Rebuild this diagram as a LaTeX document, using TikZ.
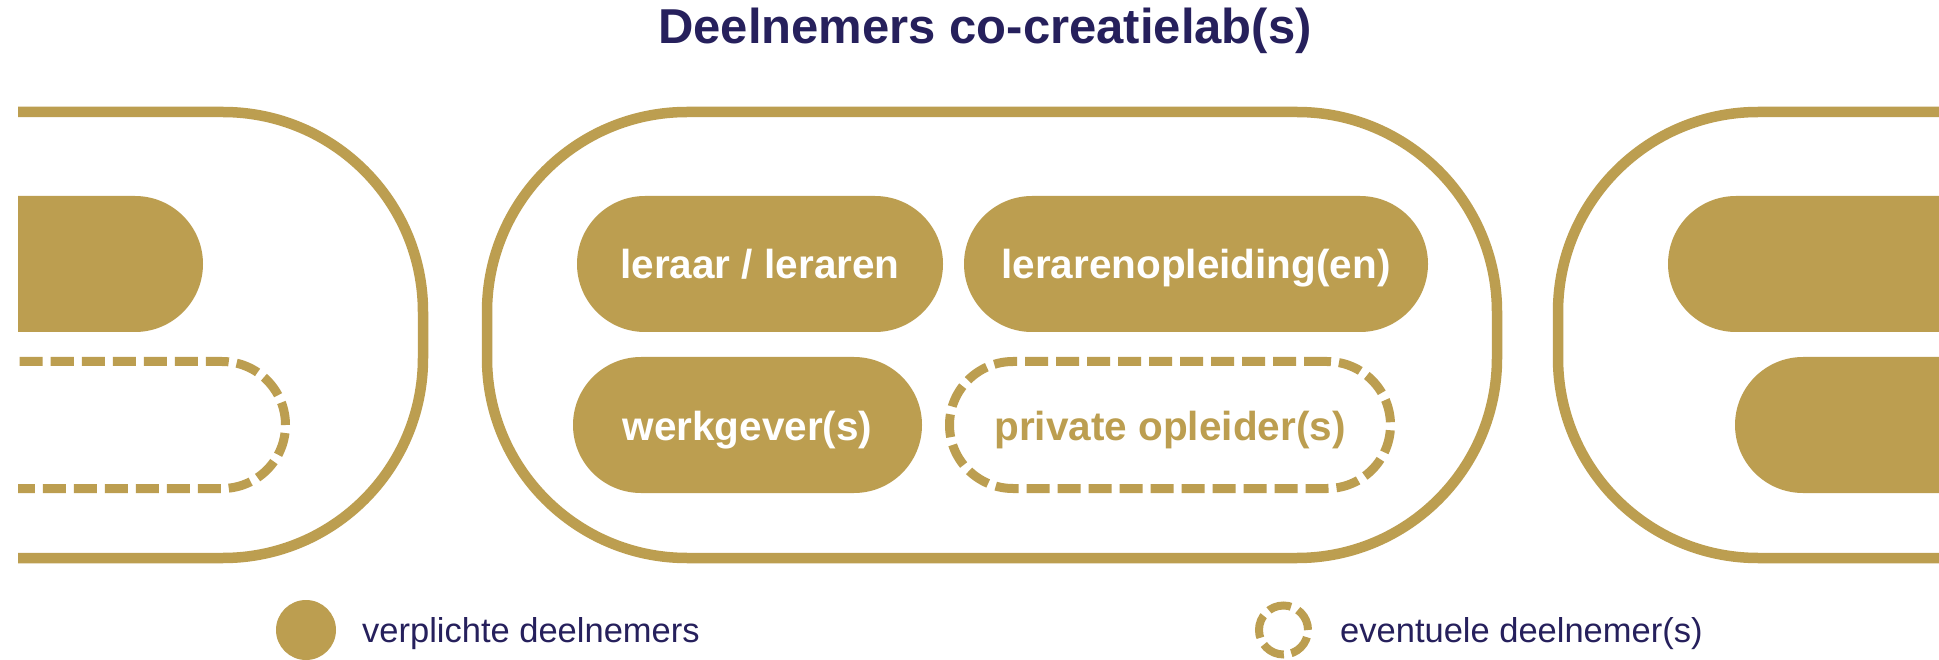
\documentclass[tikz,border=0pt]{standalone}
\usepackage{fontspec}
\setmainfont{Liberation Sans}
\definecolor{gold}{RGB}{188,158,80}
\definecolor{navy}{RGB}{38,32,92}
\begin{document}
\begin{tikzpicture}[x=1pt,y=-1pt,
  outline/.style={draw=gold, line width=10.5pt},
  pillfont/.style={font=\fontsize{40.5}{48}\selectfont\bfseries},
  pillfill/.style={fill=gold, rounded corners=68pt, minimum height=136pt, inner sep=0pt, text=white, pillfont, text height=30pt, text depth=0pt},
  dashpat/.style={dash pattern=on 23pt off 8pt},
  pilldash/.style={draw=gold, line width=9pt, dashpat, rounded corners=63.5pt, minimum height=127pt, inner sep=0pt, text=gold, pillfont, text height=30pt, text depth=0pt},
  legtext/.style={text=navy, font=\fontsize{34.5}{40}\selectfont, anchor=base west, inner sep=0pt}
]
\useasboundingbox (0,0) rectangle (1939,660);
\fill[white] (0,0) rectangle (1939,660);
\node[font=\fontsize{49}{58}\selectfont\bfseries, text=navy, anchor=base, inner sep=0pt] (title) at (985,44) {Deelnemers co-creatielab(s)};

\begin{scope}
\clip (18,0) rectangle (1939,660);
% left partial lab
\draw[outline, rounded corners=200pt] (-400,112) rectangle (423,558);
\fill[gold, rounded corners=68pt] (-200,196) rectangle (203,332);
\draw[gold, line width=9pt, dashpat, rounded corners=63.5pt] (-200,361.5) rectangle (285.5,488.5);
% right partial lab
\draw[outline, rounded corners=200pt] (1558,112) rectangle (2400,558);
\fill[gold, rounded corners=68pt] (1668,196) rectangle (2200,332);
\fill[gold, rounded corners=68pt] (1735,357) rectangle (2200,493);
\end{scope}

% central lab
\node[outline, rounded corners=200pt, minimum width=1010pt, minimum height=446pt, inner sep=0pt] (lab) at (992,335) {};
\node[pillfill, minimum width=366pt] (leraar) at (760,264) {leraar / leraren};
\node[pillfill, minimum width=464pt] (lo) at (1196,264) {lerarenopleiding(en)};
\node[pillfill, minimum width=349pt] (werk) at (747.5,425) {werkgever(s)};
\node[pilldash, minimum width=441pt] (priv) at (1170,425) {private opleider(s)};

% legend
\node[circle, fill=gold, minimum size=60pt, inner sep=0pt] (legv) at (306,630) {};
\node[legtext] (legvt) at (362,642) {verplichte deelnemers};
\node[circle, draw=gold, line width=8pt, dash pattern=on 23.2pt off 7.6pt, minimum size=49pt, inner sep=0pt] (lege) at (1283.5,630) {};
\node[legtext] (leget) at (1340,642) {eventuele deelnemer(s)};
\end{tikzpicture}
\end{document}
